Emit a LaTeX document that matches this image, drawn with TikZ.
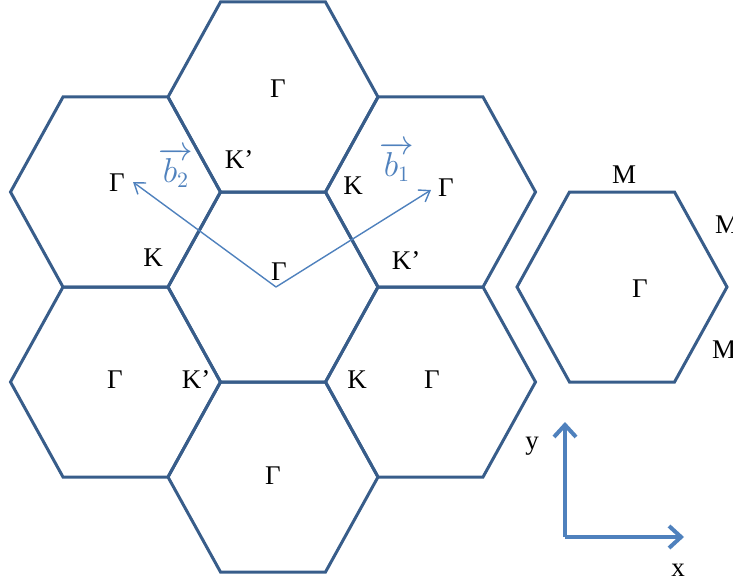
\documentclass[tikz,border=0pt]{standalone}
\usepackage{fontspec}
\setmainfont{Liberation Serif}
\usetikzlibrary{arrows.meta}
\definecolor{hexblue}{RGB}{56,93,138}
\definecolor{vecblue}{RGB}{79,129,189}
\newcommand{\hexcell}[2]{%
  \draw[hexline] (#1-105,#2) -- (#1-52.5,#2-95) -- (#1+52.5,#2-95) -- (#1+105,#2)
    -- (#1+52.5,#2+95) -- (#1-52.5,#2+95) -- cycle;}
\begin{document}
\begin{tikzpicture}[x=0.5pt,y=-0.5pt,
  hexline/.style={draw=hexblue,line width=1.5pt,line join=miter},
  lbl/.style={inner sep=0pt,font=\fontsize{13.5}{16}\selectfont},
  veclbl/.style={inner sep=0pt,text=vecblue,font=\fontsize{16}{19}\selectfont},
  vecline/.style={draw=vecblue,line width=0.7pt,-{Straight Barb[length=5pt,width=7pt,line width=0.7pt]}},
  axisline/.style={draw=vecblue,line width=2pt,-{Straight Barb[length=6pt,width=11pt,line width=2pt]}}]
\useasboundingbox (0,0) rectangle (733,583);
% hexagons
\hexcell{273}{287}
\hexcell{273}{97}
\hexcell{273}{477}
\hexcell{115.5}{192}
\hexcell{430.5}{192}
\hexcell{115.5}{382}
\hexcell{430.5}{382}
\hexcell{622}{287}
% labels
\node[lbl] (gT) at (278,89) {Γ};
\node[lbl] (gUL) at (117,183) {Γ};
\node[lbl] (gUR) at (446,188) {Γ};
\node[lbl] (gC) at (279,272) {Γ};
\node[lbl] (gLL) at (115,380) {Γ};
\node[lbl] (gLR) at (432,380) {Γ};
\node[lbl] (gB) at (273,476) {Γ};
\node[lbl] (k1) at (239,160) {K’};
\node[lbl] (k2) at (353,186) {K};
\node[lbl] (k3) at (153,258) {K};
\node[lbl] (k4) at (406,261) {K’};
\node[lbl] (k5) at (196,380) {K’};
\node[lbl] (k6) at (357,380) {K};
% separate hexagon labels
\node[lbl] (mT) at (624,175) {M};
\node[lbl] (mR) at (727,225) {M};
\node[lbl] (mB) at (724,350) {M};
\node[lbl] (gR) at (640,289) {Γ};
% reciprocal vectors
\coordinate (o) at (276,287);
\coordinate (b1e) at (431,190);
\coordinate (b2e) at (133,182);
\draw[vecline] (o) -- (b1e);
\draw[vecline] (o) -- (b2e);
\node[veclbl] (b1) at (397,162) {$\overrightarrow{b_1}$};
\node[veclbl] (b2) at (176,168) {$\overrightarrow{b_2}$};
% axes
\coordinate (ax0) at (565,537);
\coordinate (axy) at (565,422);
\coordinate (axx) at (684,537);
\draw[axisline] (ax0) -- (axy);
\draw[axisline] (ax0) -- (axx);
\node[lbl] (ylbl) at (532,446) {y};
\node[lbl] (xlbl) at (678,570) {x};
\end{tikzpicture}
\end{document}
